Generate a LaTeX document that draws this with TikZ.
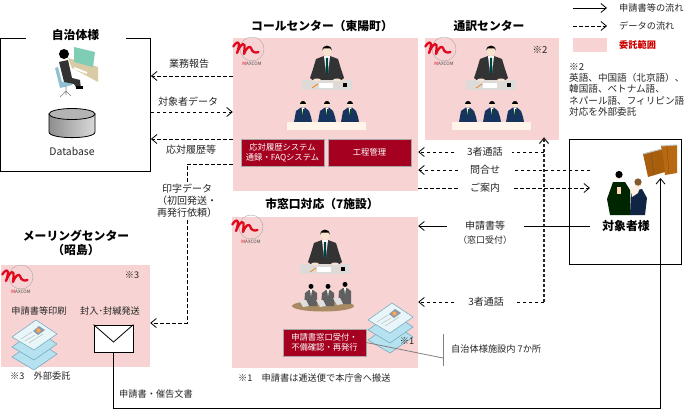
\documentclass[tikz,border=0pt]{standalone}
\usepackage{fontspec}
\setmainfont{Noto Sans CJK JP}
\usetikzlibrary{arrows.meta}
\definecolor{pinkzone}{HTML}{F8D3D3}
\definecolor{redbox}{HTML}{A5001F}
\definecolor{sheetA}{HTML}{E8F5F9}
\definecolor{sheetB}{HTML}{B5E2EE}
\definecolor{suit}{HTML}{333333}
\definecolor{navy}{HTML}{17345F}
\definecolor{kraft}{HTML}{B9690F}
\definecolor{skin}{HTML}{F7E3D0}
\definecolor{deskgray}{HTML}{DEDAD8}
\definecolor{logored}{HTML}{E00A1E}
\definecolor{screen}{HTML}{7FCDB5}
\definecolor{desktan}{HTML}{D9CBA3}
\definecolor{chair}{HTML}{8FC1D2}
\definecolor{table}{HTML}{A98A62}
\definecolor{dbdark}{HTML}{8E8E8E}
\definecolor{dblight}{HTML}{DADADA}
\definecolor{dbtop}{HTML}{B4B4B4}
\tikzset{
  >={Straight Barb[length=5.5pt,width=9pt]},
  panel/.style={fill=pinkzone,minimum width=#1,inner sep=0pt},
  frame/.style={draw=black,line width=0.8pt,fill=white,inner sep=0pt},
  btn/.style={fill=redbox,draw=gray!70,text=white,align=center,inner sep=0pt,
    minimum width=83pt,minimum height=27pt,font=\fontsize{8.3}{10}\selectfont},
  ttl/.style={font=\fontsize{11.8}{14.5}\selectfont\bfseries,align=center,inner sep=1pt},
  lab/.style={font=\fontsize{10}{12}\selectfont,text=black!85,align=center,inner sep=1pt},
  small/.style={font=\fontsize{9.2}{11.4}\selectfont,text=black!85,align=left,inner sep=0pt},
  gap/.style={lab,fill=white,minimum width=#1,inner sep=0pt},
  flow/.style={->,line width=0.8pt},
  dataflow/.style={->,line width=0.8pt,dash pattern=on 3.5pt off 2.5pt},
  logo/.pic={
    \draw[gray!70,line width=0.4pt] (0,0) circle (12);
    \draw[logored,line width=2.3pt,line cap=round,line join=round]
      (-18.7,-2.5) .. controls (-16,-7) and (-13,-8) .. (-13,-4)
      .. controls (-13,-1) and (-14.5,2) .. (-15,4)
      .. controls (-13,-2) and (-9,-7) .. (-7.5,-4)
      .. controls (-7,-1) and (-8,3) .. (-8,5)
      .. controls (-6,-1) and (-2,-4) .. (-1,-1)
      .. controls (0,3) and (3,4.5) .. (6.5,3);
    \node[inner sep=0pt,font=\fontsize{4.6}{5}\selectfont,text=black!70] (-logotext) at (0,15)
      {\textcolor{logored}{M}AXCOM};
  },
  boss/.pic={
    \fill[suit] (-3,5) -- (-11,8) -- (-14,18) -- (-17,27) -- (-12,31) -- (12,31) -- (17,27) -- (14,18) -- (11,8) -- (3,5) -- cycle;
    \fill[white] (-3,5) -- (3,5) -- (1,22) -- (-1,22) -- cycle;
    \fill[black!50!teal] (-1,7) -- (1,7) -- (1.4,20) -- (0,24) -- (-1.4,20) -- cycle;
    \fill[deskgray] (-25,29) rectangle (25,39);
    \fill[white] (-8,32) rectangle (6,37);
    \fill[skin] (-10,29) ellipse (4 and 1.5);
    \fill[skin] (10,29) ellipse (4 and 1.5);
    \draw[orange!70!brown,line width=0.7pt] (-15,37) -- (-9,33);
    \fill[black] (16,32) rectangle (20,36);
    \fill[skin] (0,0) ellipse (4.2 and 5.2);
    \fill[black] (-4.6,-0.5) .. controls (-5,-7) and (5,-7) .. (4.6,-0.5) -- (3.4,-2.5) -- (-3.4,-2.5) -- cycle;
  },
  staff/.pic={
    \fill[navy] (-2,3.5) -- (-7,7) -- (-9,18) -- (9,18) -- (8,13) -- (6,7) -- (2,3.5) -- cycle;
    \fill[white] (-1.5,3.5) -- (1.5,3.5) -- (0,11) -- cycle;
    \fill[green!30!black] (-0.4,5) rectangle (0.4,11);
    \fill[skin] (0,0.5) circle (2.8);
    \fill[black] (-3,0) .. controls (-3,-3.6) and (3,-3.6) .. (3,0) -- cycle;
  },
  team/.pic={
    \pic at (-24,0) {staff};
    \pic at (0,0) {staff};
    \pic at (23,0) {staff};
    \fill[white!92!orange] (-40,18) rectangle (39,25.5);
  },
  clerk/.pic={
    \fill[gray!75!black] (-2,3) -- (-6,6) -- (-7,19) -- (6,19) -- (6,6) -- (2,3) -- cycle;
    \fill[white] (-1,3) -- (1,3) -- (0,9) -- cycle;
    \fill[gray!25] (-12,13) -- (-5,13) -- (-2,19) -- (-8,20) -- cycle;
    \fill[skin] (0,0.5) circle (2.3);
    \fill[black] (0,-0.6) circle (2.5);
  },
  papers/.pic={
    \foreach \d/\c in {20/sheetB,10/sheetB,0/sheetA} {
      \fill[\c] (-23,{\d-3}) -- (1,{\d-20}) -- (22,{\d-6}) -- (-1,{\d+10}) -- cycle;
      \draw[gray!55!cyan,line width=0.5pt] (-23,{\d-3}) -- (1,{\d-20}) -- (22,{\d-6}) -- (-1,{\d+10}) -- cycle;
    }
    \fill[navy!50!white] (-2,-9) -- (4,-14) -- (10,-10) -- (3,-5) -- cycle;
    \fill[orange!70] (3.5,-9.5) circle (2.2);
    \draw[gray!60,line width=0.4pt] (-14,-1) -- (-3,-8) (-10,1) -- (0,-5) (-6,3) -- (8,-6);
  },
}
\begin{document}
\begin{tikzpicture}[x=1pt,y=-1pt]
    \useasboundingbox (0,0) rectangle (700,409);

    % Zones
    \node[frame,minimum width=150pt,minimum height=133pt] (gov) at (75.5,104.5) {};
    \node[panel=185pt,minimum height=153pt] (call) at (325.5,114.5) {};
    \node[panel=134pt,minimum height=102pt] (interp) at (492,89) {};
    \node[panel=186pt,minimum height=151pt] (city) at (325,292.5) {};
    \node[panel=149pt,minimum height=102pt] (mailing) at (75.5,316) {};
    \node[frame,minimum width=112pt,minimum height=125pt] (target) at (625,201.5) {};
    \coordinate (customer) at (590,201.5);

    % Titres
    \node[ttl,fill=white,minimum width=100pt] (govtitle) at (75.5,35) {自治体様};
    \node[ttl] (calltitle) at (322,26) {コールセンター（東陽町）};
    \node[ttl] (interptitle) at (489,26) {通訳センター};
    \node[ttl] (citytitle) at (322,204) {市窓口対応（7施設）};
    \node[ttl] (mailtitle) at (76,243) {メーリングセンター\\（昭島）};
    \node[ttl] (targettitle) at (626,226) {対象者様};

    % Legende
    \coordinate (legA) at (573,8);
    \coordinate (legB) at (607,8);
    \coordinate (legC) at (573,26);
    \coordinate (legD) at (607,26);
    \draw[flow] (legA) -- (legB);
    \draw[dataflow] (legC) -- (legD);
    \node[panel=34pt,minimum height=14pt] (legzone) at (590,45) {};
    \node[small,anchor=west] (legtextA) at (619,8) {申請書等の流れ};
    \node[small,anchor=west] (legtextB) at (619,26) {データの流れ};
    \node[small,anchor=west,text=red!80!black,font=\fontsize{9.2}{11}\selectfont\bfseries] (legtextC) at (619,45) {委託範囲};
    \node[small,anchor=north west,font=\fontsize{9.6}{11.3}\selectfont] (note) at (569,63)
      {※2\\英語、中国語（北京語）、\\韓国語、ベトナム語、\\ネパール語、フィリピン語\\対応を外部委託};

    % Logos et personnel
    \pic (logoA) at (252,49) {logo};
    \pic (logoB) at (444,49) {logo};
    \pic (logoC) at (251,227) {logo};
    \pic (logoD) at (21,277) {logo};
    \pic (bossA) at (327,51) {boss};
    \pic (bossB) at (491,51) {boss};
    \pic (bossC) at (325,235) {boss};
    \pic (teamA) at (327,104) {team};
    \pic (teamB) at (492,104) {team};

    % Guichet
    \fill[table] (323,306) ellipse (31 and 5.5);
    \pic (clerkA) at (311,287) {clerk};
    \pic (clerkB) at (328,287) {clerk};
    \pic (clerkC) at (345,285) {clerk};

    % Boutons
    \node[btn] (history) at (282.5,152.5) {応対履歴システム\\通録・FAQシステム};
    \node[btn] (process) at (369.5,152.5) {工程管理};
    \node[btn] (desk) at (324.5,342.5) {申請書窓口受付・\\不備確認・再発行};

    % Papiers
    \pic (papersA) at (391,323) {papers};
    \pic (papersB) at (35,340) {papers};

    % Poste de travail
    \fill[desktan] (68,58) -- (98,67) -- (98,82) -- (72,68) -- cycle;
    \fill[screen] (74,47) -- (95,52) -- (93,67) -- (74,62) -- cycle;
    \draw[white,line width=2pt] (74,68) -- (87,73);
    \fill[chair] (55,68) -- (58,67) -- (62,82) -- (75,80) -- (72,85) -- (60,88) -- cycle;
    \draw[gray,line width=0.6pt] (66,86) -- (66,91) -- (60,97) (66,91) -- (71,96) (66,91) -- (66,95);
    \fill[suit] (59,62) -- (68,60) -- (72,78) -- (80,80) -- (81,89) -- (77,89) -- (74,84) -- (64,82) -- cycle;
    \fill[black] (76,86) rectangle (83,89);
    \fill[black] (64,54) circle (5);

    % Base de donnees
    \path[draw=black,line width=0.8pt,left color=dbdark,right color=dblight] (49,114) -- (49,132)
      .. controls (49,139.5) and (95,139.5) .. (95,132) -- (95,114) -- cycle;
    \draw[line width=0.8pt,fill=dbtop] (72,114) ellipse (23 and 5.5);
    \node[lab,font=\fontsize{10.4}{11}\selectfont] (dblabel) at (72,151) {Database};

    % Enveloppe
    \node[frame,minimum width=39pt,minimum height=27pt] (mail) at (113.5,338.5) {};
    \draw[line width=0.8pt] (mail.north west) -- (113.5,342) -- (mail.north east);

    % Clients et courrier
    \fill[kraft] (661,146) -- (677,145) -- (677,173) -- (665,175) -- cycle;
    \draw[gray!50,line width=1pt] (661,146) -- (677,145);
    \fill[kraft!90!black] (643,154) -- (662,149) -- (665,172) -- (648,177) -- cycle;
    \draw[gray!50,line width=1pt] (643,154) -- (662,149);
    \draw[brown!60!black,line width=0.3pt] (651,153) -- (654,175) (667,146) -- (669,174);
    \fill[black!75!green!60!black] (613,182) -- (625,182) -- (630,190) -- (630,215) -- (610,215) -- (607,199) -- cycle;
    \fill[skin] (619,176) circle (3.3);
    \fill[black] (619,174.5) circle (3.6);
    \fill[orange!30!white] (617,187) rectangle (621,194);
    \fill[navy!70!black] (631,191) -- (642,189) -- (647,198) -- (645,215) -- (630,215) -- cycle;
    \fill[white!90!orange] (630,186) -- (640,187) -- (638,193) -- (632,197) -- cycle;
    \fill[skin] (638,184) circle (3.3);
    \fill[brown!70!black] (638,182) circle (3.6);

    % Textes
    \node[small,font=\fontsize{9.6}{11}\selectfont] (markA) at (540,50) {※2};
    \node[small] (markB) at (132,275) {※3};
    \node[small] (markC) at (407,341) {※1};
    \node[small] (printing) at (39,311) {申請書等印刷};
    \node[small] (sealing) at (110,311) {封入･封緘発送};
    \node[small,anchor=west] (noteA) at (10,376) {※3　外部委託};
    \node[small,anchor=west] (noteB) at (238,378) {※1　申請書は逓送便で本庁舎へ搬送};
    \node[small,anchor=west] (sites) at (451,349) {自治体様施設内 7か所};
    \node[small,anchor=west] (letter) at (119,394) {申請書・催告文書};

    % Flux avec le client du systeme
    \draw[dataflow] (call.west |- 0,76) -- (gov.east |- 0,76);
    \draw[dataflow] (gov.east |- 0,112) -- (call.west |- 0,112);
    \draw[dataflow] (call.west |- 0,139) -- (gov.east |- 0,139);
    \node[lab] (report) at (189,64) {業務報告};
    \node[lab] (subject) at (188,102) {対象者データ};
    \node[lab] (records) at (191,150) {応対履歴等};
    \coordinate (bendA) at (187,164);
    \coordinate (bendB) at (187,323);
    \draw[dataflow] (call.west |- bendA) -- (bendA) -- (bendB) -- (mailing.east |- bendB);
    \node[lab,fill=white] (printdata) at (187,201) {印字データ\\（初回発送・\\再発行依頼）};

    % Liaison guichet et interprete
    \coordinate (relay) at (544,302);
    \draw[->,gray!30!black,line width=1.1pt,dash pattern=on 3pt off 2pt,shorten >=-3pt] (relay) -- (relay |- interp.south);
    \draw[dataflow] (relay) -- node[gap=59pt,pos=0.46] (callC) {3者通話} (city.east |- relay);

    % Flux avec l'usager
    \draw[dataflow] (relay |- 0,152) -- node[gap=55pt,pos=0.47] (callA) {3者通話} (call.east |- 0,152);
    \draw[dataflow] (customer |- 0,170) -- node[gap=55pt,pos=0.61] (inquiry) {問合せ} (call.east |- 0,170);
    \draw[dataflow] (call.east |- 0,188) -- node[gap=55pt,pos=0.39] (guide) {ご案内} (customer |- 0,188);
    \draw[flow] (customer |- 0,226) -- node[gap=77pt,pos=0.61] (request) {申請書等} (city.east |- 0,226);
    \node[lab,font=\fontsize{9}{11}\selectfont] (requestsub) at (485,240) {（窓口受付）};

    % Courrier vers le client
    \coordinate (bottomA) at (mail.south |- 0,408);
    \coordinate (bottomB) at (660.5,408);
    \coordinate (bottomC) at (660.5,178);
    \draw[flow] (mail.south) -- (bottomA) -- (bottomB) -- (bottomC);

    % Renvoi vers les sites
    \coordinate (siteA) at (443,334);
    \coordinate (siteB) at (443,366);
    \coordinate (siteC) at (443,358);
    \draw[gray,line width=0.8pt] (siteA) -- (siteB);
    \draw[gray,line width=0.8pt] (desk.east) -- (siteC);
\end{tikzpicture}
\end{document}
